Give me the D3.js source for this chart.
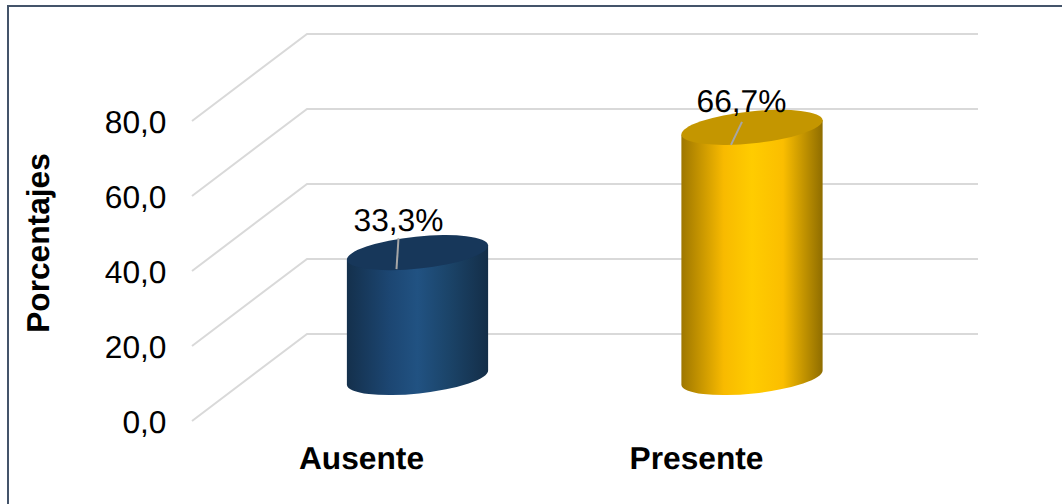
<!DOCTYPE html>
<html><head><meta charset="utf-8">
<script src="https://cdn.jsdelivr.net/npm/d3@7"></script>
<style>html,body{margin:0;padding:0;background:#fff}svg{display:block}text{font-family:"Liberation Sans",Arial,sans-serif;fill:#000;text-rendering:geometricPrecision}</style>
</head><body><svg id="c" width="1062" height="504"></svg>
<script>
const categories = ["Ausente", "Presente"];
const values = [33.3, 66.7];
const valueLabels = ["33,3%", "66,7%"];
const tickValues = [0, 20, 40, 60, 80];
const tickLabels = ["0,0", "20,0", "40,0", "60,0", "80,0"];
const axisTitle = "Porcentajes";
const gradientStops = [0, 0.3, 0.5, 0.72, 1];
const sideColors = [["#14304c","#1c4672","#215282","#1b4469","#142e48"],["#9e7700","#f8ba00","#ffcc00","#fbbe00","#8f6d00"]];
const topColors = ["#17375a","#c49600"];
const fontSize = 31.7;

const svg = d3.select("#c");
svg.append("rect").attr("x",8).attr("y",6).attr("width",1080).attr("height",520)
  .attr("fill","#fff").attr("stroke","#44546a").attr("stroke-width",2);

const yFront = d3.scaleLinear().domain([0,80]).range([421,121]);
const yBack = d3.scaleLinear().domain([0,80]).range([334,34]);
const yCyl = d3.scaleLinear().domain([0,80]).range([377.5,77.5]);
const x = d3.scalePoint().domain(categories).range([417.5,752]);
const X0=192, X1=307, X2=978;

const grid = svg.append("g").attr("fill","none").attr("stroke","#d9d9d9").attr("stroke-width",2);
grid.selectAll("path").data(tickValues).join("path")
  .attr("d",d=>d3.line()([[X0,yFront(d)],[X1,yBack(d)],[X2,yBack(d)]]));

tickValues.forEach((t,i)=>{
  svg.append("text").attr("x",166.5).attr("y",yFront(t)+12).attr("text-anchor","end")
    .attr("font-size",fontSize).text(tickLabels[i]);
});
svg.append("text").attr("transform","translate(49,243) rotate(-90)").attr("text-anchor","middle")
  .attr("font-size",fontSize).attr("font-weight","bold").text(axisTitle);

const rx=71, ry=16, ang=-6;
const defs = svg.append("defs");
categories.forEach((c,i)=>{
  const g = defs.append("linearGradient").attr("id","g"+i);
  gradientStops.forEach((o,k)=>g.append("stop").attr("offset",o).attr("stop-color",sideColors[i][k]));
  const cx=x(c), yt=yCyl(values[i]), yb=yCyl(0);
  const a=ang*Math.PI/180;
  const dx=rx*Math.cos(a), dy=rx*Math.sin(a);
  const cyl=svg.append("g");
  cyl.append("path").attr("fill",`url(#g${i})`)
    .attr("d",`M${cx-dx},${yt-dy} L${cx-dx},${yb-dy} A${rx},${ry} ${ang} 0 0 ${cx+dx},${yb+dy} L${cx+dx},${yt+dy} Z`);
  cyl.append("ellipse").attr("transform",`translate(${cx},${yt}) rotate(${ang})`)
    .attr("rx",rx).attr("ry",ry).attr("fill",topColors[i]);
});

const labelDX=[-19,-10], leaderStartOff=[-14.5,-5.5];
categories.forEach((c,i)=>{
  const cx=x(c), yt=yCyl(values[i]);
  svg.append("line").attr("x1",cx+labelDX[i]).attr("y1",yt+leaderStartOff[i])
    .attr("x2",cx+labelDX[i]+(i?-11:-2)).attr("y2",yt+(i?17.5:16.5))
    .attr("stroke","#a6a6a6").attr("stroke-width",2);
  svg.append("text").attr("x",cx+(i?-10.5:-19)).attr("y",yt+(i?-15:-22)).attr("text-anchor","middle")
    .attr("font-size",fontSize).text(valueLabels[i]);
  svg.append("text").attr("x",i?696.5:361.5).attr("y",469).attr("text-anchor","middle")
    .attr("font-size",fontSize).attr("font-weight","bold").text(c);
});
</script></body></html>
